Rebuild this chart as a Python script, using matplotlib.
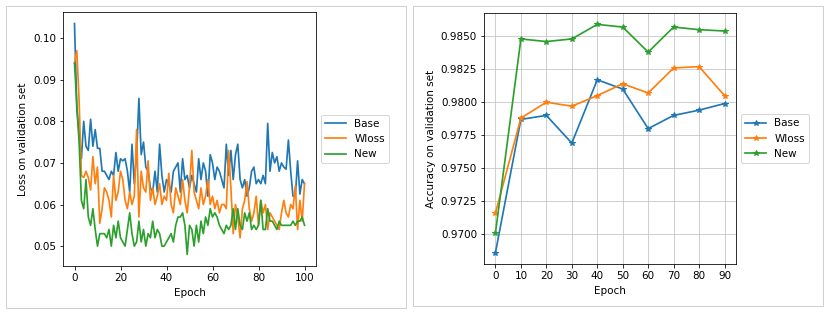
import numpy as np
import matplotlib
matplotlib.use('Agg')
from matplotlib import pyplot as plt
from matplotlib.patches import Rectangle

# loss per epoch
loss_base = [0.1035, 0.083, 0.077, 0.071, 0.080, 0.074, 0.073, 0.0805, 0.074, 0.078,
             0.0735, 0.0735, 0.068, 0.068, 0.067, 0.066, 0.068, 0.067, 0.0725, 0.068,
             0.071, 0.0705, 0.071, 0.068, 0.063, 0.0745, 0.065, 0.072, 0.0855, 0.072,
             0.075, 0.069, 0.068, 0.064, 0.063, 0.068, 0.063, 0.0745, 0.067, 0.063,
             0.066, 0.065, 0.063, 0.068, 0.069, 0.070, 0.063, 0.071, 0.066, 0.067,
             0.064, 0.067, 0.065, 0.063, 0.071, 0.066, 0.070, 0.068, 0.062, 0.072,
             0.070, 0.066, 0.069, 0.068, 0.066, 0.064, 0.0745, 0.067, 0.073, 0.066,
             0.072, 0.0745, 0.066, 0.064, 0.066, 0.062, 0.064, 0.068, 0.069, 0.065,
             0.066, 0.065, 0.067, 0.065, 0.0795, 0.068, 0.0725, 0.070, 0.0715, 0.068,
             0.070, 0.069, 0.0685, 0.0755, 0.068, 0.062, 0.062, 0.0705, 0.0625, 0.066,
             0.065]
loss_wloss = [0.094, 0.097, 0.085, 0.067, 0.0665, 0.068, 0.0665, 0.0635, 0.0715, 0.065,
              0.069, 0.0555, 0.059, 0.064, 0.063, 0.061, 0.057, 0.067, 0.061, 0.063,
              0.068, 0.066, 0.061, 0.059, 0.063, 0.060, 0.062, 0.078, 0.057, 0.068,
              0.064, 0.063, 0.0705, 0.061, 0.064, 0.060, 0.062, 0.065, 0.060, 0.062,
              0.061, 0.0675, 0.060, 0.058, 0.064, 0.062, 0.060, 0.066, 0.061, 0.058,
              0.064, 0.073, 0.063, 0.061, 0.059, 0.064, 0.060, 0.062, 0.066, 0.060,
              0.062, 0.059, 0.061, 0.058, 0.060, 0.060, 0.059, 0.073, 0.064, 0.053,
              0.060, 0.057, 0.052, 0.059, 0.061, 0.0655, 0.059, 0.056, 0.058, 0.062,
              0.055, 0.061, 0.058, 0.060, 0.054, 0.058, 0.057, 0.056, 0.055, 0.054,
              0.058, 0.061, 0.058, 0.057, 0.060, 0.059, 0.0645, 0.054, 0.061, 0.056,
              0.065]
loss_new = [0.094, 0.084, 0.075, 0.061, 0.059, 0.066, 0.057, 0.055, 0.059, 0.054,
            0.050, 0.053, 0.053, 0.053, 0.052, 0.054, 0.050, 0.055, 0.052, 0.056,
            0.052, 0.051, 0.050, 0.054, 0.058, 0.053, 0.050, 0.051, 0.056, 0.051,
            0.054, 0.050, 0.053, 0.052, 0.056, 0.052, 0.054, 0.053, 0.050, 0.050,
            0.051, 0.052, 0.053, 0.051, 0.055, 0.057, 0.057, 0.058, 0.055, 0.048,
            0.055, 0.054, 0.050, 0.055, 0.051, 0.056, 0.053, 0.057, 0.055, 0.059,
            0.057, 0.058, 0.057, 0.055, 0.054, 0.053, 0.055, 0.054, 0.055, 0.059,
            0.054, 0.059, 0.055, 0.054, 0.058, 0.056, 0.058, 0.054, 0.055, 0.054,
            0.055, 0.061, 0.054, 0.054, 0.059, 0.056, 0.056, 0.055, 0.054, 0.056,
            0.055, 0.055, 0.055, 0.055, 0.055, 0.056, 0.055, 0.056, 0.056, 0.057,
            0.055]

# accuracy every 10 epochs (right panel)
acc_epochs = [0, 10, 20, 30, 40, 50, 60, 70, 80, 90]
acc_base = [0.9686, 0.9787, 0.9790, 0.9769, 0.9817, 0.9810, 0.9780, 0.9790, 0.9794, 0.9799]
acc_wloss = [0.9716, 0.9788, 0.9800, 0.9797, 0.9805, 0.9814, 0.9807, 0.9826, 0.9827, 0.9805]
acc_new = [0.9701, 0.9848, 0.9846, 0.9848, 0.9859, 0.9857, 0.9838, 0.9857, 0.9855, 0.9854]

labels = ['Base', 'Wloss', 'New']

plt.rcParams['font.size'] = 10.4
plt.rcParams['lines.linewidth'] = 1.7
plt.rcParams['axes.labelpad'] = 5
plt.rcParams['grid.color'] = '#c4c4c4'

W, H = 830, 316
fig = plt.figure(figsize=(W / 72, H / 72), dpi=72)

# light frames around each notebook output
fig.patches.append(Rectangle((6 / W, 1 - 308 / H), 400 / W, 302 / H, transform=fig.transFigure,
                             fill=False, edgecolor='#cfcfcf', lw=1))
fig.patches.append(Rectangle((413 / W, 1 - 306 / H), 410 / W, 300 / H, transform=fig.transFigure,
                             fill=False, edgecolor='#cfcfcf', lw=1))

# left: loss
ax1 = fig.add_axes([63 / W, 1 - 266 / H, 253 / W, 254 / H])
epochs = np.arange(len(loss_base))
for vals, lab in zip([loss_base, loss_wloss, loss_new], labels):
    ax1.plot(epochs, vals, label=lab)
ax1.set_xlabel('Epoch')
ax1.set_ylabel('Loss on validation set')
ax1.legend(loc='center left', bbox_to_anchor=(1, 0.5))

# right: accuracy
ax2 = fig.add_axes([484 / W, 1 - 264 / H, 252 / W, 251 / H])
for vals, lab in zip([acc_base, acc_wloss, acc_new], labels):
    ax2.plot(acc_epochs, vals, marker='*', label=lab)
ax2.set_xticks(acc_epochs)
ax2.grid(True)
ax2.set_xlabel('Epoch')
ax2.set_ylabel('Accuracy on validation set')
ax2.legend(loc='center left', bbox_to_anchor=(1, 0.5))

fig.savefig('out.png', dpi=72)
